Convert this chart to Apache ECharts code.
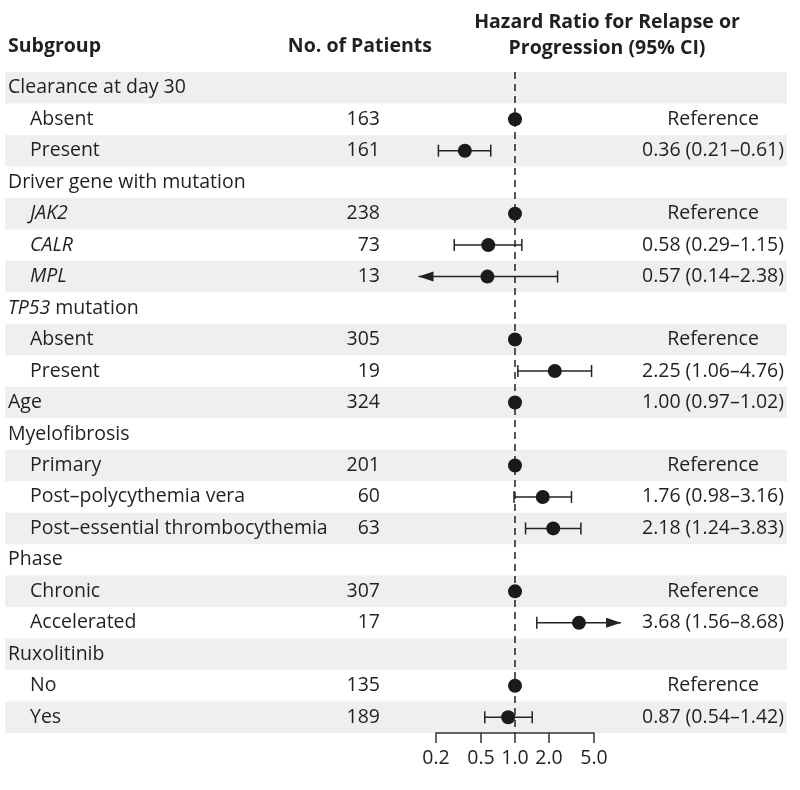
<!DOCTYPE html>
<html><head><meta charset="utf-8">
<script src="https://cdn.jsdelivr.net/npm/echarts@6/dist/echarts.min.js"></script>
<style>html,body{margin:0;padding:0;background:#fff}#c{width:800px;height:790px}</style>
</head><body><div id="c"></div>
<script>
// ---- data ----
const subgroups = ['Clearance at day 30','Absent','Present','Driver gene with mutation','JAK2','CALR','MPL','TP53 mutation','Absent','Present','Age','Myelofibrosis','Primary','Post–polycythemia vera','Post–essential thrombocythemia','Phase','Chronic','Accelerated','Ruxolitinib','No','Yes'];
const levels = [0,1,1,0,1,1,1,0,1,1,0,0,1,1,1,0,1,1,0,1,1];
const italicPart = ['','','','','JAK2','CALR','MPL','TP53','','','','','','','','','','','','',''];
const patients = ['','163','161','','238','73','13','','305','19','324','','201','60','63','','307','17','','135','189'];
const hazardRatio = [null,1,0.36,null,1,0.58,0.57,null,1,2.25,1.00,null,1,1.76,2.18,null,1,3.68,null,1,0.87];
const ciLower = [null,null,0.21,null,null,0.29,0.14,null,null,1.06,0.97,null,null,0.98,1.24,null,null,1.56,null,null,0.54];
const ciUpper = [null,null,0.61,null,null,1.15,2.38,null,null,4.76,1.02,null,null,3.16,3.83,null,null,8.68,null,null,1.42];
const hrText = ['','Reference','0.36 (0.21–0.61)','','Reference','0.58 (0.29–1.15)','0.57 (0.14–2.38)','','Reference','2.25 (1.06–4.76)','1.00 (0.97–1.02)','','Reference','1.76 (0.98–3.16)','2.18 (1.24–3.83)','','Reference','3.68 (1.56–8.68)','','Reference','0.87 (0.54–1.42)'];
const tickValues = [0.2,0.5,1,2,5];
const headers = {subgroup:'Subgroup', patients:'No. of Patients', hr1:'Hazard Ratio for Relapse or', hr2:'Progression (95% CI)'};

// ---- build ----
const FONT = '"Open Sans", sans-serif';
const FS = 19.5;
const TXT = '#231f20';
const rows = subgroups.map((_, i) => i);
const TOP = 72, H = 661;
const axisMin = tickValues[0], axisMax = tickValues[tickValues.length-1];

function labelFmt(i) {
  const name = subgroups[i], it = italicPart[i], lv = levels[i];
  const pre = lv ? 's' : 'h';
  if (it) {
    const rest = name.slice(it.length);
    return '{' + (lv ? 'is' : 'ih') + '|' + it + '}' + (rest ? '{h|' + rest + '}' : '');
  }
  return '{' + pre + '|' + name + '}';
}

const catY = (gridIndex, extra) => Object.assign({
  type: 'category', data: rows, inverse: true, gridIndex, z: 10,
  axisLine: {show: false}, axisTick: {show: false}, splitLine: {show: false},
  axisLabel: {show: false}
}, extra || {});

const hiddenX = (gridIndex, extra) => Object.assign({
  type: 'value', gridIndex, show: false, min: 0, max: 1
}, extra || {});

const chart = echarts.init(document.getElementById('c'), null, {renderer: 'canvas'});
chart.setOption({
  animation: false,
  textStyle: {fontFamily: FONT},
  grid: [
    {left: 5, width: 782, top: TOP, height: H},      // 0 bands + subgroup labels
    {left: 0, width: 380, top: TOP, height: H},      // 1 patients
    {left: 0, width: 713, top: TOP, height: H},      // 2 HR text
    {left: 402, width: 226, top: TOP, height: H},    // 3 plot (log 0.1-10)
    {left: 436, width: 158, top: TOP, height: H}     // 4 visible axis (0.2-5)
  ],
  xAxis: [
    hiddenX(0), hiddenX(1), hiddenX(2),
    {type: 'log', gridIndex: 3, min: 0.1, max: 10, show: false},
    {type: 'log', gridIndex: 4, min: axisMin, max: axisMax, z: 10,
     axisLine: {show: true, lineStyle: {color: '#333', width: 1.5}},
     axisTick: {show: true, customValues: tickValues, length: 10, lineStyle: {color: '#333', width: 1.5}},
     axisLabel: {customValues: tickValues, formatter: v => Number(v).toFixed(1), fontFamily: FONT, fontSize: FS, color: TXT, margin: 15},
     splitLine: {show: false}, minorTick: {show: false}}
  ],
  yAxis: [
    catY(0, {axisLabel: {show: true, interval: 0, inside: true, margin: 3, align: 'left',
      formatter: (v, i) => labelFmt(i),
      rich: {
        h: {fontFamily: FONT, fontSize: FS, color: TXT},
        ih: {fontFamily: FONT, fontSize: FS, color: TXT, fontStyle: 'italic'},
        s: {fontFamily: FONT, fontSize: FS, color: TXT, padding: [0,0,0,22]},
        is: {fontFamily: FONT, fontSize: FS, color: TXT, fontStyle: 'italic', padding: [0,0,0,22]}
      }}}),
    catY(1, {position: 'right', axisLabel: {show: true, interval: 0, inside: true, margin: 0, align: 'right',
      formatter: (v, i) => patients[i], fontFamily: FONT, fontSize: FS, color: TXT}}),
    catY(2, {position: 'right', axisLabel: {show: true, interval: 0, inside: true, margin: 0, align: 'center',
      formatter: (v, i) => hrText[i], fontFamily: FONT, fontSize: FS, color: TXT}}),
    catY(3),
    catY(4)
  ],
  graphic: [
    {type: 'text', left: 8, top: 36, style: {text: headers.subgroup, font: 'bold 19.5px ' + FONT, fill: TXT}},
    {type: 'text', right: 368, top: 36, style: {text: headers.patients, font: 'bold 19.5px ' + FONT, fill: TXT}},
    {type: 'text', x: 607, y: 22, style: {text: headers.hr1, font: 'bold 19.5px ' + FONT, fill: TXT, textAlign: 'center', textVerticalAlign: 'middle'}},
    {type: 'text', x: 607, y: 48, style: {text: headers.hr2, font: 'bold 19.5px ' + FONT, fill: TXT, textAlign: 'center', textVerticalAlign: 'middle'}}
  ],
  series: [
    {type: 'bar', xAxisIndex: 0, yAxisIndex: 0, silent: true, z: 1,
     barWidth: '100%', barCategoryGap: 0,
     itemStyle: {color: '#efefed'},
     data: rows.map(i => i % 2 === 0 ? 1 : 0)},
    {type: 'custom', xAxisIndex: 3, yAxisIndex: 3, z: 5, silent: true,
     data: rows.filter(i => ciLower[i] != null).map(i => [ciLower[i], ciUpper[i], i]),
     renderItem: (params, api) => {
       const lo = api.value(0), hi = api.value(1), row = api.value(2);
       const p1 = api.coord([lo, row]), p2 = api.coord([hi, row]);
       const y = p1[1], ch = 6, al = 15, ah = 5;
       const st = {stroke: '#222', lineWidth: 1.5};
       const kids = [{type: 'line', shape: {x1: p1[0], y1: y, x2: p2[0], y2: y}, style: st}];
       if (lo < axisMin) kids.push({type: 'polygon', shape: {points: [[p1[0], y], [p1[0]+al, y-ah], [p1[0]+al, y+ah]]}, style: {fill: '#222'}});
       else kids.push({type: 'line', shape: {x1: p1[0], y1: y-ch, x2: p1[0], y2: y+ch}, style: st});
       if (hi > axisMax) kids.push({type: 'polygon', shape: {points: [[p2[0], y], [p2[0]-al, y-ah], [p2[0]-al, y+ah]]}, style: {fill: '#222'}});
       else kids.push({type: 'line', shape: {x1: p2[0], y1: y-ch, x2: p2[0], y2: y+ch}, style: st});
       return {type: 'group', children: kids};
     }},
    {type: 'scatter', xAxisIndex: 3, yAxisIndex: 3, z: 6, silent: true,
     symbol: 'circle', symbolSize: 14, itemStyle: {color: '#1a1a1a', opacity: 1},
     data: rows.filter(i => hazardRatio[i] != null).map(i => [hazardRatio[i], i]),
     markLine: {silent: true, symbol: 'none', label: {show: false},
       lineStyle: {type: [7, 5], color: '#222', width: 1.5},
       data: [{xAxis: 1}]}}
  ]
});
</script></body></html>
